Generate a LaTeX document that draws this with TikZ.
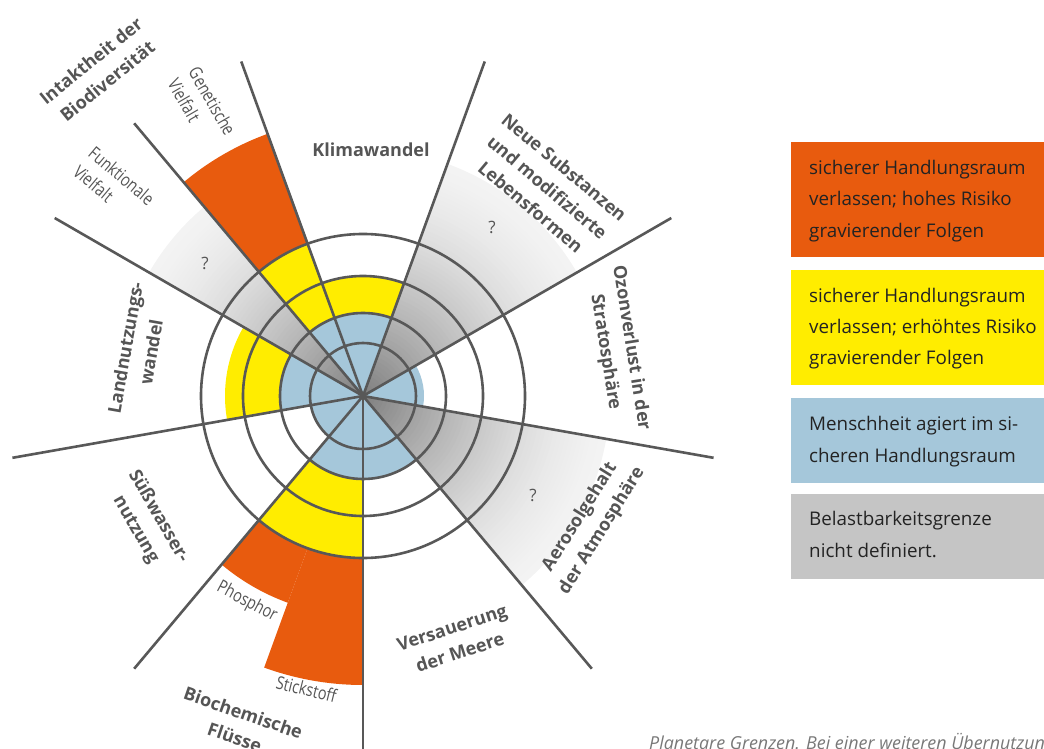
\documentclass[tikz,border=0pt]{standalone}
\usepackage{fontspec}
\setmainfont{Open Sans}
\definecolor{orangeC}{RGB}{232,91,14}
\definecolor{yellowC}{RGB}{255,237,0}
\definecolor{blueC}{RGB}{165,199,218}
\definecolor{grayC}{RGB}{197,197,197}
\definecolor{lineC}{RGB}{88,88,88}
\definecolor{labC}{RGB}{85,85,85}
\definecolor{legtxtC}{RGB}{35,35,35}
\definecolor{capC}{RGB}{120,120,120}
\newcommand{\mysector}[4]{\fill[#1] (0,0) -- (#2:#4pt) arc[start angle=#2, end angle=#3, radius=#4pt] -- cycle;}
\newcommand{\cond}[1]{\scalebox{0.8}[1]{#1}}
\begin{document}
\begin{tikzpicture}[x=1pt,y=1pt,
  ring/.style={draw=lineC, line width=2.6pt},
  spoke/.style={draw=lineC, line width=2.6pt},
  lab/.style={text=labC, font=\bfseries\fontsize{18}{26}\selectfont, align=center, inner sep=0pt},
  small/.style={text=labC, font=\fontsize{18}{24}\selectfont, inner sep=0pt},
  qmark/.style={text=labC, font=\fontsize{17}{20}\selectfont, inner sep=0pt},
  legbox/.style={inner sep=0pt, minimum width=253pt},
  legtxt/.style={text=legtxtC, font=\fontsize{18.8}{32}\selectfont, anchor=base west, inner sep=0pt}]
\useasboundingbox (0,0) rectangle (1044,748);
\begin{scope}[shift={(363,352)}]
  % grey, undefined boundaries: radial fade
  \foreach \i in {60,...,1}{
    \pgfmathsetmacro\rr{\i*247/60}
    \pgfmathsetmacro\g{(243-118*(1-\i/60)*sqrt(1-\i/60))/255}
    \definecolor{gshade}{gray}{\g}
    \mysector{gshade}{30}{70}{\rr}
    \mysector{gshade}{-50}{-10}{\rr}
    \mysector{gshade}{130}{150}{\rr}
  }
  % Genetische Vielfalt
  \mysector{orangeC}{110}{130}{279}
  \mysector{yellowC}{110}{130}{162}
  \mysector{blueC}{110}{130}{83}
  % Klimawandel
  \mysector{yellowC}{70}{110}{120}
  \mysector{blueC}{70}{110}{83}
  % Ozon
  \mysector{blueC}{-10}{30}{61}
  % Versauerung
  \mysector{blueC}{-90}{-50}{83}
  % Biochemische Fluesse
  \mysector{orangeC}{250}{270}{289}
  \mysector{orangeC}{230}{250}{220}
  \mysector{yellowC}{230}{270}{162}
  \mysector{blueC}{230}{270}{83}
  % Suesswasser
  \mysector{blueC}{190}{230}{53}
  % Landnutzung
  \mysector{yellowC}{150}{190}{138}
  \mysector{blueC}{150}{190}{83}
  % rings
  \foreach \r in {53,83,120,162}{\draw[ring] (0,0) circle[radius=\r pt];}
  % spokes
  \coordinate (c) at (0,0);
  \foreach \a in {110,70,30,-10,-50,-130,190,150,130}{\draw[spoke] (c) -- (\a:356pt);}
  \draw[spoke] (c) -- (-90:370pt);
\end{scope}
% main labels
\node[lab] (klima) at (371,598) {Klimawandel};
\node[lab, rotate=-40] (neue) at (547.5,561) {Neue Substanzen\\und modifizierte\\Lebensformen};
\node[lab, rotate=-81] (ozon) at (618,398) {Ozonverlust in der\\Stratosphäre};
\node[lab, rotate=58] (aero) at (591,224) {Aerosolgehalt\\der Atmosphäre};
\node[lab, rotate=18] (vers) at (456,108) {Versauerung\\der Meere};
\node[lab, rotate=-19] (bio) at (239,23) {Biochemische\\Flüsse};
\node[lab, rotate=-60] (suess) at (147,225) {Süßwasser-\\nutzung};
\node[lab, rotate=80] (land) at (138,398) {Landnutzungs-\\wandel};
\node[lab, rotate=39] (intakt) at (99,677) {Intaktheit der\\Biodiversität};
% small labels
\node[small, rotate=-60, align=left] (gen) at (202,641) {\cond{Genetische}\\\cond{Vielfalt}};
\node[small, rotate=-40, align=left] (funk) at (114,563) {\cond{Funktionale}\\\cond{Vielfalt}};
\node[small, rotate=-28] (phos) at (247,146) {\cond{Phosphor}};
\node[small, rotate=-14] (stick) at (306.5,59) {\cond{Stickstoff}};
% question marks
\node[qmark] (q1) at (205,485) {?};
\node[qmark] (q2) at (492,521) {?};
\node[qmark] (q3) at (533,253) {?};
% legend
\node[legbox, fill=orangeC, minimum height=115pt] (lo) at (917.5,548.5) {};
\node[legbox, fill=yellowC, minimum height=115pt] (ly) at (917.5,420.5) {};
\node[legbox, fill=blueC, minimum height=85pt] (lb) at (917.5,307.5) {};
\node[legbox, fill=grayC, minimum height=85pt] (lg) at (917.5,211.5) {};
\node[legtxt] (o1) at (809,573) {sicherer Handlungsraum};
\node[legtxt] (o2) at (809,542) {verlassen; hohes Risiko};
\node[legtxt] (o3) at (809,510) {gravierender Folgen};
\node[legtxt] (y1) at (809,445) {sicherer Handlungsraum};
\node[legtxt] (y2) at (809,414) {verlassen; erhöhtes Risiko};
\node[legtxt] (y3) at (809,383) {gravierender Folgen};
\node[legtxt] (b1) at (809,318) {Menschheit agiert im si-};
\node[legtxt] (b2) at (809,286) {cheren Handlungsraum};
\node[legtxt] (g1) at (809,223) {Belastbarkeitsgrenze};
\node[legtxt] (g2) at (809,191) {nicht definiert.};
% caption
\node[anchor=base west, inner sep=0pt, text=capC, font=\itshape\fontsize{17.9}{20}\selectfont] (cap) at (649,-1.5) {Planetare Grenzen. Bei einer weiteren Übernutzun};
\end{tikzpicture}
\end{document}
